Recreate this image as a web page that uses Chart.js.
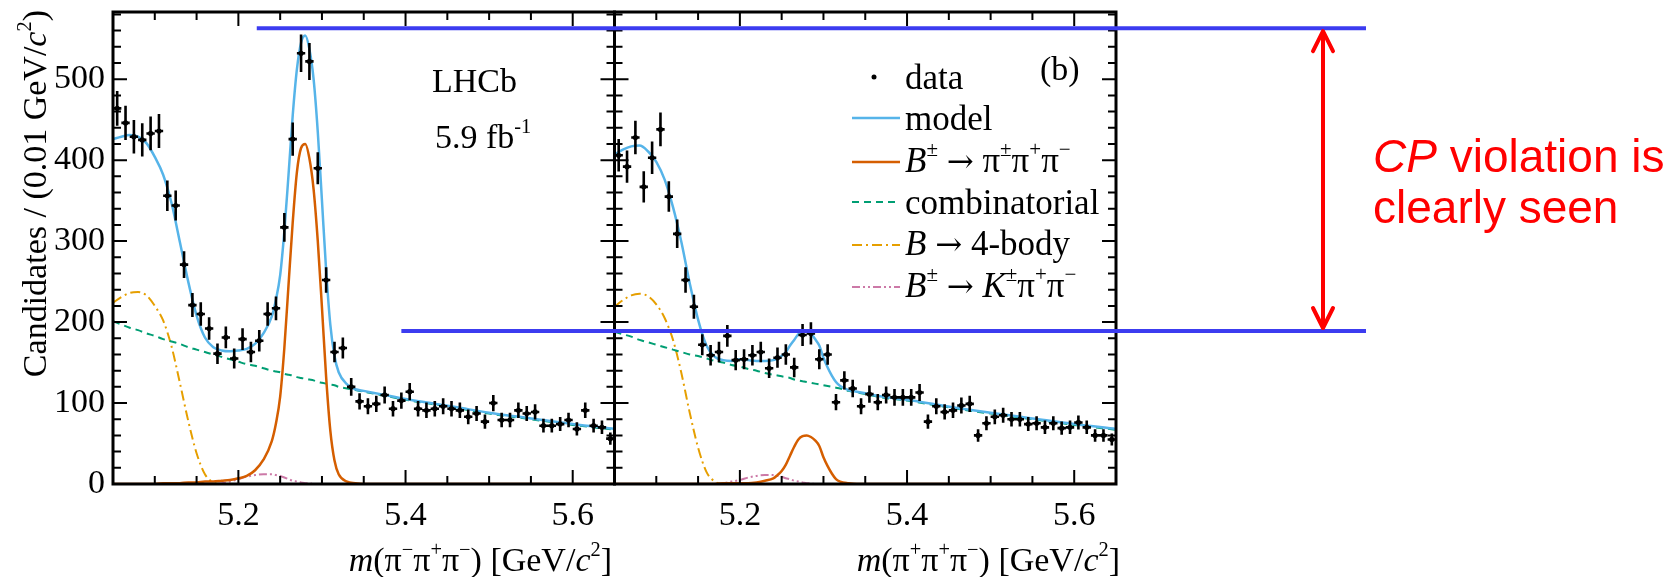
<!DOCTYPE html>
<html lang="en">
<head>
<meta charset="utf-8">
<script src="https://cdn.jsdelivr.net/npm/chart.js@4.4.1/dist/chart.umd.min.js"></script>
<style>
  html, body { margin: 0; padding: 0; background: #fff; }
  #stage { position: relative; width: 1676px; height: 577px; overflow: hidden; }
  #stage canvas, #stage svg { position: absolute; left: 0; top: 0; }
  .t { position: absolute; white-space: nowrap; line-height: 1; font: 34px "Liberation Serif", "Times New Roman", serif; color: #000; }
  .t sup { font-size: 0.6em; position: relative; top: -0.75em; vertical-align: baseline; line-height: 0; }
  .t .arr { font-family: "DejaVu Serif", serif; font-size: 0.92em; }
  .legend-text { font-size: 35px; }
  .xtitle { top: 541px; }
  #ytitle { left: 16px; top: 490px; width: 480px; text-align: right; transform-origin: 0 0; transform: rotate(-90deg); }
  #cp { position: absolute; left: 1373px; top: 131px; font: 46px/51px "Liberation Sans", Arial, sans-serif; color: #f00; white-space: nowrap; }
</style>
</head>
<body>
<div id="stage">
  <canvas id="massChart" width="1676" height="577"></canvas>
  <svg id="legendKeys" width="1676" height="577"></svg>
  <div class="t" id="ytitle">Candidates / (0.01 GeV/<i>c</i><sup>2</sup>)</div>
  <div class="t xtitle" style="right:1064px"><i>m</i>(π<sup>−</sup>π<sup>+</sup>π<sup>−</sup>) [GeV/<i>c</i><sup>2</sup>]</div>
  <div class="t xtitle" style="right:556px"><i>m</i>(π<sup>+</sup>π<sup>+</sup>π<sup>−</sup>) [GeV/<i>c</i><sup>2</sup>]</div>
  <div class="t" style="left:432px; top:62px">LHCb</div>
  <div class="t" style="left:435px; top:118px">5.9 fb<sup>-1</sup></div>
  <div class="t" style="left:1040px; top:50px">(b)</div>
  <div id="legend"></div>
  <div id="cp"><i>CP</i> violation is<br>clearly seen</div>
</div>

<script>
// mass range of each half, GeV/c^2
const massMin = 5.05;
const massMax = 5.65;
const massMajor = 0.2;
const massMinor = 0.05;
const halfBin = 0.005;

const countMax = 583;
const countMinor = 20;
const countMajor = 100;

// bin centres (0.01 GeV/c^2 bins)
const binCenters = [
  5.055, 5.065, 5.075, 5.085, 5.095, 5.105, 5.115, 5.125, 5.135, 5.145,
  5.155, 5.165, 5.175, 5.185, 5.195, 5.205, 5.215, 5.225, 5.235, 5.245,
  5.255, 5.265, 5.275, 5.285, 5.295, 5.305, 5.315, 5.325, 5.335, 5.345,
  5.355, 5.365, 5.375, 5.385, 5.395, 5.405, 5.415, 5.425, 5.435, 5.445,
  5.455, 5.465, 5.475, 5.485, 5.495, 5.505, 5.515, 5.525, 5.535, 5.545,
  5.555, 5.565, 5.575, 5.585, 5.595, 5.605, 5.615, 5.625, 5.635, 5.645
];

// candidates per bin, B- (pi- pi+ pi-)
const countsMinus = [
  464, 446, 429, 425, 433, 436, 356, 344, 271, 221,
  210, 192, 161, 181, 155, 179, 163, 177, 210, 217,
  317, 426, 532, 522, 390, 252, 163, 168, 120, 102,
  96, 99, 110, 93, 103, 114, 93, 91, 93, 96,
  93, 91, 83, 87, 77, 100, 79, 79, 91, 87,
  89, 72, 72, 74, 79, 68, 91, 72, 70, 56
];

// candidates per bin, B+ (pi+ pi+ pi-)
const countsPlus = [
  406, 392, 428, 367, 403, 438, 355, 309, 252, 219,
  172, 159, 163, 183, 153, 154, 159, 163, 143, 156,
  160, 144, 184, 186, 154, 160, 101, 128, 118, 96,
  111, 101, 110, 107, 107, 107, 113, 77, 96, 89,
  91, 97, 99, 60, 75, 83, 85, 80, 80, 74,
  75, 70, 75, 69, 70, 76, 70, 60, 60, 55
];

// mass points where the fit components are sampled
const curveMass = [
  5.05, 5.06, 5.07, 5.08, 5.09, 5.10, 5.11, 5.12, 5.13, 5.14,
  5.15, 5.16, 5.17, 5.18, 5.19, 5.20, 5.21, 5.22, 5.23, 5.24,
  5.245, 5.25, 5.255, 5.26, 5.265, 5.27, 5.275, 5.28, 5.285, 5.29,
  5.295, 5.30, 5.305, 5.31, 5.315, 5.32, 5.33, 5.34, 5.35, 5.37,
  5.40, 5.43, 5.46, 5.50, 5.55, 5.60, 5.65
];

const modelMinus = [
  426, 429, 431, 429, 421, 404, 382, 347, 299, 250,
  208, 181, 169, 165, 164, 165, 167, 173, 186, 207,
  228, 258, 312, 382, 455, 512, 545, 554, 537, 500,
  435, 350, 264, 197, 158, 138, 123, 117, 115, 111,
  105, 100, 95, 88, 81, 74, 68
];
const signalMinus = [
  0, 0, 0, 0, 0, 0, 1, 1, 1, 2,
  2, 3, 3, 4, 5, 7, 10, 17, 30, 53,
  75, 108, 168, 246, 323, 385, 415, 420, 402, 364,
  300, 218, 132, 66, 29, 12, 3, 1, 0, 0,
  0, 0, 0, 0, 0, 0, 0
];
const combMinus = [
  201, 197, 193, 190, 186, 183, 179, 176, 173, 169,
  166, 163, 160, 157, 154, 151, 148, 146, 143, 140,
  139, 138, 136, 135, 134, 132, 131, 130, 129, 128,
  126, 125, 124, 123, 122, 120, 118, 116, 114, 110,
  104, 99, 94, 87, 80, 73, 67
];
const fourBodyMinus = [
  224, 231, 236, 237, 233, 220, 202, 170, 125, 78,
  38, 12, 2, 0, 0, 0, 0, 0, 0, 0,
  0, 0, 0, 0, 0, 0, 0, 0, 0, 0,
  0, 0, 0, 0, 0, 0, 0, 0, 0, 0,
  0, 0, 0, 0, 0, 0, 0
];
const kpipiMinus = [
  0, 0, 0, 0, 0, 0, 0, 0, 0, 0,
  0, 0, 0, 1, 3, 6, 9, 11, 12, 12,
  11, 10, 8, 6, 4, 3, 2, 1, 1, 0,
  0, 0, 0, 0, 0, 0, 0, 0, 0, 0,
  0, 0, 0, 0, 0, 0, 0
];

const modelPlus = [
  407, 413, 417, 418, 411, 398, 376, 342, 299, 248,
  203, 171, 157, 153, 152, 154, 153, 152, 152, 153,
  155, 158, 163, 171, 178, 185, 188, 189, 186, 179,
  171, 156, 144, 134, 126, 121, 116, 114, 112, 108,
  104, 99, 94, 88, 81, 74, 68
];
const signalPlus = [
  0, 0, 0, 0, 0, 0, 0, 0, 0, 0,
  0, 0, 0, 1, 1, 1, 1, 2, 4, 7,
  11, 16, 24, 35, 46, 55, 59, 60, 58, 54,
  47, 33, 22, 13, 6, 3, 1, 0, 0, 0,
  0, 0, 0, 0, 0, 0, 0
];
const combPlus = [
  188, 185, 182, 178, 175, 172, 169, 166, 163, 160,
  158, 155, 152, 150, 147, 145, 142, 140, 137, 135,
  134, 133, 132, 131, 129, 128, 127, 126, 125, 124,
  123, 122, 121, 120, 119, 118, 115, 113, 111, 107,
  103, 98, 93, 87, 80, 73, 67
];
const fourBodyPlus = [
  219, 227, 233, 235, 232, 222, 205, 178, 137, 88,
  45, 15, 3, 0, 0, 0, 0, 0, 0, 0,
  0, 0, 0, 0, 0, 0, 0, 0, 0, 0,
  0, 0, 0, 0, 0, 0, 0, 0, 0, 0,
  0, 0, 0, 0, 0, 0, 0
];
const kpipiPlus = [
  0, 0, 0, 0, 0, 0, 0, 0, 0, 0,
  0, 0, 0, 1, 3, 5, 8, 10, 11, 11,
  10, 9, 7, 6, 4, 3, 2, 1, 1, 0,
  0, 0, 0, 0, 0, 0, 0, 0, 0, 0,
  0, 0, 0, 0, 0, 0, 0
];

// peak heights of the two charges, joined by the guide lines
const peakLevels = [563, 189];
const guideStartMass = [5.222, 5.395];
const guideEndX = 1366;
const arrowX = 1323;

const styles = {
  model:    { color: '#56B4E9', width: 2.5, dash: [] },
  signal:   { color: '#D55E00', width: 2.5, dash: [] },
  comb:     { color: '#009E73', width: 2,   dash: [7, 5] },
  fourBody: { color: '#E69F00', width: 2,   dash: [10, 4, 2, 4] },
  kpipi:    { color: '#CC79A7', width: 2,   dash: [8, 3, 2, 3, 2, 3] }
};

const arrow = '<span class="arr">→</span>';
const legendEntries = [
  { key: 'data',     html: 'data' },
  { key: 'model',    html: 'model' },
  { key: 'signal',   html: '<i>B</i><sup>±</sup> ' + arrow + ' π<sup>±</sup>π<sup>+</sup>π<sup>−</sup>' },
  { key: 'comb',     html: 'combinatorial' },
  { key: 'fourBody', html: '<i>B</i> ' + arrow + ' 4-body' },
  { key: 'kpipi',    html: '<i>B</i><sup>±</sup> ' + arrow + ' <i>K</i><sup>±</sup>π<sup>+</sup>π<sup>−</sup>' }
];

function points(xs, ys) {
  return xs.map((x, i) => ({ x: x, y: ys[i] }));
}

function curve(axisID, values, style) {
  return {
    type: 'line',
    data: points(curveMass, values),
    xAxisID: axisID,
    yAxisID: 'y',
    borderColor: style.color,
    borderWidth: style.width,
    borderDash: style.dash,
    pointRadius: 0,
    fill: false,
    cubicInterpolationMode: 'monotone'
  };
}

function panel(axisID, counts, c) {
  return [
    {
      type: 'line',
      data: points(binCenters, counts),
      xAxisID: axisID,
      yAxisID: 'y',
      showLine: false,
      pointRadius: 2.6,
      pointBackgroundColor: '#000',
      pointBorderWidth: 0,
      poisson: true
    },
    curve(axisID, c.model, styles.model),
    curve(axisID, c.signal, styles.signal),
    curve(axisID, c.comb, styles.comb),
    curve(axisID, c.fourBody, styles.fourBody),
    curve(axisID, c.kpipi, styles.kpipi)
  ];
}

function isMultiple(value, step) {
  const k = value / step;
  return Math.abs(k - Math.round(k)) < 1e-6;
}

const tickFont = { family: 'Liberation Serif', size: 34 };

function massAxis() {
  return {
    type: 'linear',
    position: 'bottom',
    stack: 'mass',
    stackWeight: 1,
    bounds: 'data',
    min: massMin,
    max: massMax,
    grid: { display: false, drawTicks: false },
    border: { display: false },
    ticks: {
      stepSize: massMinor,
      autoSkip: false,
      maxRotation: 0,
      minRotation: 0,
      padding: 12,
      color: '#000',
      font: tickFont,
      callback: v => isMultiple(v, massMajor) ? v.toFixed(1) : ''
    },
    afterFit: scale => {
      scale.height = 93;
      scale.paddingLeft = 0;
      scale.paddingRight = 0;
    }
  };
}

// error bars, inward ticks, frames and the guide lines
const histoDecor = {
  id: 'histoDecor',
  afterDatasetsDraw(chart) {
    const ctx = chart.ctx;
    ctx.save();
    ctx.strokeStyle = '#000';
    ctx.lineWidth = 2.6;
    chart.data.datasets.forEach((ds, i) => {
      if (!ds.poisson) return;
      const meta = chart.getDatasetMeta(i);
      const xs = chart.scales[meta.xAxisID];
      const ys = chart.scales[meta.yAxisID];
      ctx.beginPath();
      ds.data.forEach(p => {
        const err = Math.sqrt(p.y);
        const px = xs.getPixelForValue(p.x);
        const py = ys.getPixelForValue(p.y);
        ctx.moveTo(px, ys.getPixelForValue(p.y - err));
        ctx.lineTo(px, ys.getPixelForValue(p.y + err));
        ctx.moveTo(xs.getPixelForValue(p.x - halfBin), py);
        ctx.lineTo(xs.getPixelForValue(p.x + halfBin), py);
      });
      ctx.stroke();
    });
    ctx.restore();
  },
  afterDraw(chart) {
    const { ctx, chartArea: area, scales } = chart;
    const y = scales.y;
    ctx.save();
    ctx.strokeStyle = '#000';
    ['xL', 'xR'].forEach(id => {
      const x = scales[id];
      ctx.lineWidth = 2;
      ctx.beginPath();
      const first = Math.ceil(x.min / massMinor - 1e-6);
      const last = Math.floor(x.max / massMinor + 1e-6);
      for (let k = first + 1; k < last; k++) {
        const px = x.getPixelForValue(k * massMinor);
        const len = isMultiple(k * massMinor, massMajor) ? 14 : 8;
        ctx.moveTo(px, area.bottom);
        ctx.lineTo(px, area.bottom - len);
        ctx.moveTo(px, area.top);
        ctx.lineTo(px, area.top + len);
      }
      for (let v = countMinor; v < y.max; v += countMinor) {
        const py = y.getPixelForValue(v);
        const len = v % countMajor === 0 ? 14 : 8;
        ctx.moveTo(x.left, py);
        ctx.lineTo(x.left + len, py);
        ctx.moveTo(x.right, py);
        ctx.lineTo(x.right - len, py);
      }
      ctx.stroke();
      ctx.lineWidth = 3;
      ctx.strokeRect(x.left, area.top, x.right - x.left, area.bottom - area.top);
    });

    // blue guides at the two peak heights
    ctx.strokeStyle = '#3c3cf0';
    ctx.lineWidth = 4;
    peakLevels.forEach((level, i) => {
      const py = y.getPixelForValue(level);
      ctx.beginPath();
      ctx.moveTo(scales.xL.getPixelForValue(guideStartMass[i]), py);
      ctx.lineTo(guideEndX, py);
      ctx.stroke();
    });

    // double-headed arrow between them
    const top = y.getPixelForValue(peakLevels[0]) + 3;
    const bottom = y.getPixelForValue(peakLevels[1]) - 3;
    ctx.strokeStyle = '#ff0000';
    ctx.lineWidth = 4;
    ctx.lineCap = 'round';
    ctx.lineJoin = 'round';
    ctx.beginPath();
    ctx.moveTo(arrowX, top);
    ctx.lineTo(arrowX, bottom);
    ctx.moveTo(arrowX - 10, top + 20);
    ctx.lineTo(arrowX, top);
    ctx.lineTo(arrowX + 10, top + 20);
    ctx.moveTo(arrowX - 10, bottom - 20);
    ctx.lineTo(arrowX, bottom);
    ctx.lineTo(arrowX + 10, bottom - 20);
    ctx.stroke();
    ctx.restore();
  }
};

const datasets = [].concat(
  panel('xL', countsMinus, { model: modelMinus, signal: signalMinus, comb: combMinus, fourBody: fourBodyMinus, kpipi: kpipiMinus }),
  panel('xR', countsPlus, { model: modelPlus, signal: signalPlus, comb: combPlus, fourBody: fourBodyPlus, kpipi: kpipiPlus })
);

new Chart(document.getElementById('massChart'), {
  type: 'line',
  data: { datasets: datasets },
  options: {
    responsive: false,
    animation: false,
    devicePixelRatio: 1,
    events: [],
    layout: { padding: { left: 0, top: 12, right: 560, bottom: 0 } },
    plugins: { legend: { display: false }, tooltip: { enabled: false } },
    scales: {
      xL: massAxis(),
      xR: massAxis(),
      y: {
        type: 'linear',
        position: 'left',
        bounds: 'data',
        min: 0,
        max: countMax,
        grid: { display: false, drawTicks: false },
        border: { display: false },
        ticks: {
          stepSize: countMinor,
          autoSkip: false,
          includeBounds: false,
          padding: 8,
          color: '#000',
          font: tickFont,
          callback: v => v % countMajor === 0 ? String(v) : ''
        },
        afterFit: scale => {
          scale.width = 113;
          scale.paddingTop = 0;
          scale.paddingBottom = 0;
        }
      }
    }
  },
  plugins: [histoDecor]
});

// legend inside the right-hand panel
const legendBox = document.getElementById('legend');
const keys = document.getElementById('legendKeys');
const svgNS = 'http://www.w3.org/2000/svg';
const keyY = [77, 118, 162, 202, 245, 287];
const textBaseline = [87, 128, 170, 212, 253, 295];

legendEntries.forEach((entry, i) => {
  const label = document.createElement('div');
  label.className = 't legend-text';
  label.style.left = '905px';
  label.style.top = (textBaseline[i] - 29.3) + 'px';
  label.innerHTML = entry.html;
  legendBox.appendChild(label);

  if (entry.key === 'data') {
    const dot = document.createElementNS(svgNS, 'circle');
    dot.setAttribute('cx', 874);
    dot.setAttribute('cy', keyY[i]);
    dot.setAttribute('r', 2.5);
    dot.setAttribute('fill', '#000');
    keys.appendChild(dot);
  } else {
    const s = styles[entry.key];
    const line = document.createElementNS(svgNS, 'line');
    line.setAttribute('x1', 852);
    line.setAttribute('x2', 900);
    line.setAttribute('y1', keyY[i]);
    line.setAttribute('y2', keyY[i]);
    line.setAttribute('stroke', s.color);
    line.setAttribute('stroke-width', s.width);
    if (s.dash.length) line.setAttribute('stroke-dasharray', s.dash.join(' '));
    keys.appendChild(line);
  }
});
</script>
</body>
</html>
